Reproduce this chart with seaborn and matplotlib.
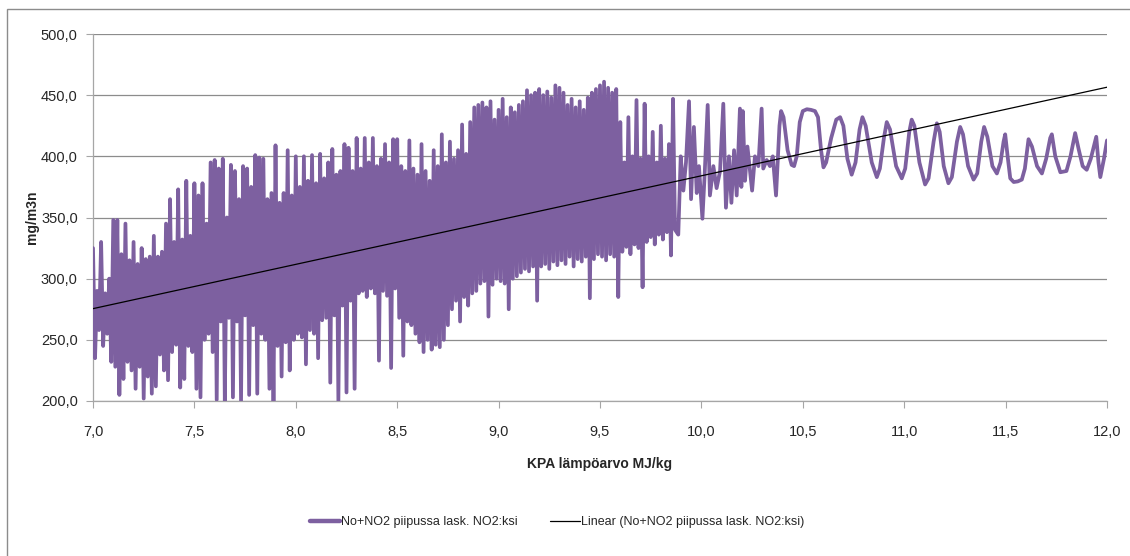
import numpy as np
import pandas as pd
import matplotlib
matplotlib.use("Agg")
import matplotlib.pyplot as plt
import seaborn as sns
from matplotlib.lines import Line2D
from matplotlib.patches import Rectangle
from matplotlib.ticker import FuncFormatter, MultipleLocator

# --- NOx readings (mg/m3n) against fuel heating value (MJ/kg) ---

# Dense measurement period: one peak and one dip per 0.02 MJ/kg step
dense_x0 = 7.00
dense_step = 0.02
dense_hi = [
    325, 290, 330, 288, 300,
    348, 348, 320, 345, 315,
    330, 312, 325, 316, 318,
    335, 318, 322, 345, 365,
    330, 373, 332, 380, 335,
    378, 368, 378, 345, 395,
    397, 390, 398, 350, 393,
    388, 365, 392, 390, 375,
    401, 399, 398, 365, 370,
    409, 362, 370, 405, 368,
    400, 375, 400, 380, 401,
    378, 402, 382, 395, 406,
    385, 388, 410, 407, 388,
    415, 390, 415, 395, 415,
    392, 398, 410, 395, 414,
    414, 392, 388, 413, 390,
    385, 410, 388, 380, 405,
    392, 418, 395, 412, 398,
    405, 426, 402, 428, 440,
    442, 444, 440, 445, 430,
    438, 447, 432, 440, 436,
    442, 445, 454, 450, 452,
    455, 450, 453, 448, 458,
    456, 452, 442, 447, 440,
    445, 438, 448, 452, 455,
    458, 461, 456, 452, 455,
    428, 395, 432, 400, 446,
    398, 443, 400, 420, 395,
    425, 398, 410, 447,
]
dense_lo = [
    235, 258, 245, 255, 232,
    228, 205, 218, 232, 225,
    210, 228, 202, 220, 206,
    212, 238, 225, 217, 240,
    246, 211, 218, 245, 240,
    210, 203, 250, 255, 240,
    201, 265, 199, 268, 203,
    265, 200, 270, 205, 262,
    206, 255, 250, 210, 198,
    245, 220, 248, 225, 250,
    255, 252, 230, 258, 255,
    235, 266, 268, 215, 270,
    200, 278, 207, 282, 210,
    288, 290, 285, 292, 288,
    233, 290, 286, 227, 292,
    268, 237, 265, 262, 255,
    248, 240, 250, 242, 246,
    244, 250, 262, 275, 282,
    265, 285, 278, 288, 290,
    296, 298, 269, 295, 300,
    298, 296, 275, 300, 302,
    305, 308, 306, 310, 282,
    310, 312, 308, 314, 311,
    315, 312, 318, 310, 316,
    314, 318, 284, 316, 320,
    318, 315, 320, 318, 285,
    322, 326, 320, 328, 325,
    293, 330, 334, 328, 336,
    332, 338, 319, 340,
]

# Transitional period
mid_x = [9.886, 9.898, 9.911, 9.924, 9.939, 9.949, 9.963, 9.977, 9.988,
         10.005, 10.016, 10.031, 10.042, 10.059, 10.075, 10.092, 10.108,
         10.121, 10.136, 10.148, 10.161, 10.174, 10.190, 10.197, 10.204,
         10.215, 10.227, 10.240, 10.250, 10.264, 10.281, 10.297, 10.305,
         10.322, 10.338, 10.352, 10.368, 10.385]
mid_y = [336, 400, 372, 395, 445, 365, 424, 370, 392,
         349, 385, 442, 368, 392, 374, 388, 443,
         358, 400, 362, 405, 368, 439, 375, 437,
         380, 408, 388, 372, 400, 392, 439, 390,
         397, 392, 400, 368, 425]

# Stable operation at high heating values
tail_x = [10.393, 10.405, 10.425, 10.445, 10.457, 10.470, 10.485, 10.500,
          10.520, 10.540, 10.560, 10.575, 10.590, 10.602, 10.615, 10.640,
          10.665, 10.684, 10.700, 10.720, 10.741, 10.760, 10.780, 10.794,
          10.810, 10.840, 10.865, 10.880, 10.900, 10.914, 10.930, 10.960,
          10.988, 11.005, 11.025, 11.037, 11.050, 11.075, 11.103, 11.120,
          11.145, 11.161, 11.175, 11.195, 11.218, 11.235, 11.260, 11.276,
          11.290, 11.315, 11.342, 11.360, 11.380, 11.394, 11.410, 11.435,
          11.457, 11.475, 11.490, 11.498, 11.510, 11.523, 11.540, 11.560,
          11.580, 11.595, 11.613, 11.630, 11.655, 11.679, 11.700, 11.720,
          11.728, 11.745, 11.770, 11.800, 11.820, 11.843, 11.860, 11.880,
          11.900, 11.920, 11.947, 11.958, 11.967, 11.985, 12.000]
tail_y = [437, 432, 405, 393, 392, 400, 428, 437,
          438.5, 438, 437, 432, 405, 391, 395, 415,
          430, 432, 425, 398, 385, 395, 422, 432,
          425, 395, 383, 390, 415, 428, 422, 392,
          382, 390, 420, 430, 425, 395, 377, 382,
          412, 427, 420, 392, 378, 383, 412, 424,
          418, 392, 381, 386, 412, 424, 416, 392,
          386, 395, 412, 418, 400, 382, 379, 379.5,
          381, 390, 414, 408, 392, 386, 398, 415,
          418, 400, 387, 388, 400, 419, 406, 392,
          389, 398, 416, 395, 383, 398, 413]

# Linear trend line of the series (end values)
trend_x = [7.0, 12.0]
trend_y = [275.5, 456.5]

series_name = "No+NO2 piipussa lask. NO2:ksi"
trend_name = "Linear (No+NO2 piipussa lask. NO2:ksi)"
x_label = "KPA lämpöarvo MJ/kg"
y_label = "mg/m3n"

# --- assemble the series ---
hi_x = dense_x0 + dense_step * np.arange(len(dense_hi))
lo_x = hi_x + dense_step / 2
dense_x = np.column_stack([hi_x, lo_x]).ravel()
dense_y = np.column_stack([dense_hi, dense_lo]).ravel()

df = pd.DataFrame({
    "x": np.concatenate([dense_x, mid_x, tail_x]),
    "y": np.concatenate([dense_y, mid_y, tail_y]),
})
trend = pd.DataFrame({"x": trend_x, "y": trend_y})

# --- style ---
sns.set_style("white")
plt.rcParams["font.family"] = ["Liberation Sans", "DejaVu Sans"]

purple = "#7D60A0"
grid_col = "#8C8C8C"
text_col = "#262626"

W, H = 1130, 556
fig = plt.figure(figsize=(W / 100, H / 100), dpi=100)
fig.patch.set_facecolor("white")

# outer chart frame
fig.patches.append(Rectangle((7 / W, -0.05), 1.2, (H - 9) / H + 0.05,
                             transform=fig.transFigure, fill=False,
                             edgecolor="#8C8C8C", linewidth=1.0))

ax = fig.add_axes([93 / W, 155 / H, 1014 / W, 367 / H])

sns.lineplot(data=df, x="x", y="y", ax=ax, sort=False, estimator=None,
             color=purple, linewidth=2.7, zorder=3)
sns.lineplot(data=trend, x="x", y="y", ax=ax, sort=False, estimator=None,
             color="black", linewidth=0.9, zorder=4)

ax.set_xlim(7.0, 12.0)
ax.set_ylim(200, 500)
ax.xaxis.set_major_locator(MultipleLocator(0.5))
ax.yaxis.set_major_locator(MultipleLocator(50))
comma = FuncFormatter(lambda v, p: f"{v:.1f}".replace(".", ","))
ax.xaxis.set_major_formatter(comma)
ax.yaxis.set_major_formatter(comma)

ax.grid(axis="y", color=grid_col, linewidth=0.9, zorder=0)
ax.grid(axis="x", visible=False)
for side in ("top", "right"):
    ax.spines[side].set_visible(False)
for side in ("left", "bottom"):
    ax.spines[side].set_color("#A6A6A6")
    ax.spines[side].set_linewidth(0.9)

ax.tick_params(axis="y", direction="out", length=5, width=0.8, color="#A6A6A6",
               pad=6, labelsize=10.5, labelcolor=text_col, left=True)
ax.tick_params(axis="x", direction="out", length=5, width=0.8, color="#A6A6A6",
               pad=12, labelsize=10.5, labelcolor=text_col, bottom=True)

ax.set_xlabel(x_label, fontsize=10, fontweight="bold", color=text_col)
ax.set_ylabel(y_label, fontsize=10, fontweight="bold", color=text_col)
ax.xaxis.set_label_coords(0.5, -(457 - 401) / 367)
ax.yaxis.set_label_coords(-(93 - 39) / 1014, 0.5)

handles = [Line2D([], [], color=purple, linewidth=3.2),
           Line2D([], [], color="black", linewidth=0.9)]
fig.legend(handles, [series_name, trend_name], loc="center",
           bbox_to_anchor=(557 / W, 1 - 522 / H), ncol=2, frameon=False,
           fontsize=9, handlelength=2.4, handletextpad=0.1,
           columnspacing=2.6, labelcolor=text_col)

fig.savefig("out.png", dpi=100)
